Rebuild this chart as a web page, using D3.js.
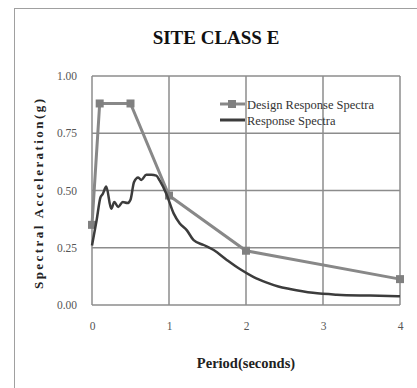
<!DOCTYPE html>
<html>
<head>
<meta charset="utf-8">
<script src="https://cdn.jsdelivr.net/npm/d3@7"></script>
<style>
  body { margin: 0; background: #fff; }
  text { font-family: "Liberation Serif", "DejaVu Serif", serif; }
</style>
</head>
<body>
<svg id="chart" width="417" height="388"></svg>
<script>
// Design response spectrum (period s, acceleration g)
var designPeriod = [0, 0.1, 0.5, 1.0, 2.0, 4.0];
var designAccel  = [0.35, 0.88, 0.88, 0.478, 0.237, 0.113];

// Recorded response spectrum
var respPeriod = [0, 0.06, 0.11, 0.14, 0.185, 0.25, 0.29, 0.34, 0.40, 0.46, 0.50, 0.545, 0.60, 0.64,
                  0.705, 0.77, 0.835, 0.88, 0.965, 1.06, 1.14, 1.23, 1.32, 1.45, 1.58, 1.75, 1.92,
                  2.1, 2.27, 2.42, 2.57, 2.87, 3.18, 3.61, 4.0];
var respAccel  = [0.26, 0.37, 0.47, 0.485, 0.517, 0.42, 0.45, 0.428, 0.45, 0.445, 0.46, 0.536, 0.557, 0.546,
                  0.569, 0.569, 0.565, 0.543, 0.486, 0.40, 0.356, 0.327, 0.283, 0.262, 0.24, 0.197, 0.157,
                  0.122, 0.098, 0.081, 0.07, 0.053, 0.045, 0.041, 0.038];

var xTicks = [0, 1, 2, 3, 4];
var yTicks = [0, 0.25, 0.5, 0.75, 1.0];

var margin = {top: 76, left: 92, right: 17, bottom: 83},
    width = 417 - margin.left - margin.right,
    height = 388 - margin.top - margin.bottom;

var svg = d3.select("#chart");

// outer chart frame
svg.append("rect")
    .attr("x", 14.5).attr("y", 8.5)
    .attr("width", 430).attr("height", 420)
    .attr("fill", "none").attr("stroke", "#a0a0a0").attr("stroke-width", 1);

svg.append("text")
    .attr("x", 216).attr("y", 44)
    .attr("text-anchor", "middle")
    .style("font-size", "19px").style("font-weight", "bold").style("fill", "#111")
    .text("SITE CLASS E");

var g = svg.append("g")
    .attr("transform", "translate(" + margin.left + "," + margin.top + ")");

var x = d3.scaleLinear().domain([0, 4]).range([0, width]);
var y = d3.scaleLinear().domain([0, 1]).range([height, 0]);

// grid
g.selectAll(".hgrid").data(yTicks).enter().append("line")
    .attr("x1", 0).attr("x2", width)
    .attr("y1", function(d) { return y(d); }).attr("y2", function(d) { return y(d); })
    .attr("stroke", "#8c8c8c").attr("stroke-width", 1.5);
g.selectAll(".vgrid").data(xTicks).enter().append("line")
    .attr("y1", 0).attr("y2", height)
    .attr("x1", function(d) { return x(d); }).attr("x2", function(d) { return x(d); })
    .attr("stroke", "#8c8c8c").attr("stroke-width", 1.5);

// axes (labels only)
var xAxis = d3.axisBottom(x).tickValues(xTicks).tickSize(0).tickPadding(17).tickFormat(d3.format("d"));
var yAxis = d3.axisLeft(y).tickValues(yTicks).tickSize(0).tickPadding(15).tickFormat(d3.format(".2f"));

g.append("g").attr("transform", "translate(0," + height + ")").call(xAxis)
  .call(function(s) { s.select(".domain").remove(); })
  .selectAll("text").style("font-size", "11.5px").style("fill", "#555").style("font-family", "Liberation Serif");

g.append("g").call(yAxis)
  .call(function(s) { s.select(".domain").remove(); })
  .selectAll("text").style("font-size", "11.5px").style("fill", "#555").style("font-family", "Liberation Serif");

svg.append("text")
    .attr("x", 246).attr("y", 368)
    .attr("text-anchor", "middle")
    .style("font-size", "14.5px").style("font-weight", "bold").style("fill", "#222")
    .text("Period(seconds)");

svg.append("text")
    .attr("transform", "translate(43,194) rotate(-90)")
    .attr("text-anchor", "middle")
    .attr("textLength", 190).attr("lengthAdjust", "spacing")
    .style("font-size", "13px").style("font-weight", "bold").style("fill", "#222")
    .text("Spectral Acceleration(g)");

var line = d3.line()
    .x(function(d) { return x(d[0]); })
    .y(function(d) { return y(d[1]); });

var design = d3.zip(designPeriod, designAccel);
var resp = d3.zip(respPeriod, respAccel);

g.append("path").datum(design)
    .attr("d", line).attr("fill", "none")
    .attr("stroke", "#888").attr("stroke-width", 3);

g.selectAll(".mk").data(design).enter().append("rect")
    .attr("x", function(d) { return x(d[0]) - 4; })
    .attr("y", function(d) { return y(d[1]) - 4; })
    .attr("width", 8).attr("height", 8)
    .attr("fill", "#808080");

g.append("path").datum(resp)
    .attr("d", line.curve(d3.curveMonotoneX)).attr("fill", "none")
    .attr("stroke", "#3c3c3c").attr("stroke-width", 2.5);

// legend
var lg = svg.append("g");
lg.append("line").attr("x1", 220).attr("x2", 245).attr("y1", 104).attr("y2", 104)
    .attr("stroke", "#888").attr("stroke-width", 3);
lg.append("rect").attr("x", 228).attr("y", 100).attr("width", 8).attr("height", 8).attr("fill", "#808080");
lg.append("text").attr("x", 247).attr("y", 108.5)
    .style("font-size", "12.5px").style("fill", "#333").text("Design Response Spectra");
lg.append("line").attr("x1", 220).attr("x2", 245).attr("y1", 120).attr("y2", 120)
    .attr("stroke", "#3c3c3c").attr("stroke-width", 3);
lg.append("text").attr("x", 247).attr("y", 124.5)
    .style("font-size", "12.5px").style("fill", "#333").text("Response Spectra");
</script>
</body>
</html>
